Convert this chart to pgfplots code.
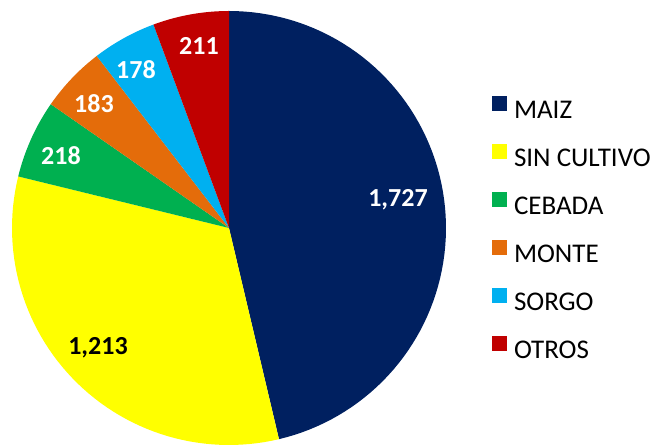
\documentclass[border=0pt]{standalone}
\usepackage{pgfplots}
\pgfplotsset{compat=1.18}
\usepackage{fontspec}
\setmainfont{Carlito}
\definecolor{cMaiz}{HTML}{002060}
\definecolor{cSin}{HTML}{FFFF00}
\definecolor{cCeb}{HTML}{00B050}
\definecolor{cMon}{HTML}{E46C0A}
\definecolor{cSor}{HTML}{00B0F0}
\definecolor{cOtr}{HTML}{C00000}
% values
\def\vMaiz{1727}\def\vSin{1213}\def\vCeb{218}\def\vMon{183}\def\vSor{178}\def\vOtr{211}
\begin{document}
\begin{tikzpicture}
\pgfmathsetmacro{\tot}{\vMaiz+\vSin+\vCeb+\vMon+\vSor+\vOtr}
\pgfmathsetmacro{\aA}{90}
\pgfmathsetmacro{\aB}{\aA-360*(\vMaiz/\tot)}
\pgfmathsetmacro{\aC}{\aB-360*(\vSin/\tot)}
\pgfmathsetmacro{\aD}{\aC-360*(\vCeb/\tot)}
\pgfmathsetmacro{\aE}{\aD-360*(\vMon/\tot)}
\pgfmathsetmacro{\aF}{\aE-360*(\vSor/\tot)}
\pgfmathsetmacro{\aG}{-270}
\def\cx{229}\def\cy{217}\def\R{217}
\begin{axis}[
  x=1bp, y=1bp, xmin=0, xmax=651, ymin=0, ymax=445,
  hide axis, clip=false,
  legend style={at={(axis cs:492,349)}, anchor=north west, draw=none, fill=none,
    inner sep=0pt, outer sep=0pt, row sep=20.8bp,
    nodes={inner sep=0pt, text height=17bp, text depth=5bp, font=\fontsize{27bp}{30bp}\selectfont},
    /tikz/every odd column/.append style={column sep=7bp}},
  legend cell align=left,
  legend image code/.code={\fill[#1] (0bp,1.2bp) rectangle (15bp,16.2bp);},
]
\path (axis cs:0,0) rectangle (axis cs:651,445);
\addplot[fill=cMaiz, draw=none, domain=\aB:\aA, samples=80, variable=\t]
  ({\cx+\R*cos(\t)},{\cy+\R*sin(\t)}) -- (axis cs:\cx,\cy) -- cycle;
\addlegendentry{MAIZ}
\addplot[fill=cSin, draw=none, domain=\aC:\aB, samples=60, variable=\t]
  ({\cx+\R*cos(\t)},{\cy+\R*sin(\t)}) -- (axis cs:\cx,\cy) -- cycle;
\addlegendentry{SIN CULTIVO}
\addplot[fill=cCeb, draw=none, domain=\aD:\aC, samples=20, variable=\t]
  ({\cx+\R*cos(\t)},{\cy+\R*sin(\t)}) -- (axis cs:\cx,\cy) -- cycle;
\addlegendentry{CEBADA}
\addplot[fill=cMon, draw=none, domain=\aE:\aD, samples=20, variable=\t]
  ({\cx+\R*cos(\t)},{\cy+\R*sin(\t)}) -- (axis cs:\cx,\cy) -- cycle;
\addlegendentry{MONTE}
\addplot[fill=cSor, draw=none, domain=\aF:\aE, samples=20, variable=\t]
  ({\cx+\R*cos(\t)},{\cy+\R*sin(\t)}) -- (axis cs:\cx,\cy) -- cycle;
\addlegendentry{SORGO}
\addplot[fill=cOtr, draw=none, domain=\aG:\aF, samples=20, variable=\t]
  ({\cx+\R*cos(\t)},{\cy+\R*sin(\t)}) -- (axis cs:\cx,\cy) -- cycle;
\addlegendentry{OTROS}
\begin{scope}[every node/.style={font=\bfseries\fontsize{26bp}{30bp}\selectfont, inner sep=0pt}]
\node[white] at (axis cs:398,245) {1,727};
\node[black] at (axis cs:98,97) {1,213};
\node[white] at (axis cs:61,289) {218};
\node[white] at (axis cs:94,341) {183};
\node[white] at (axis cs:136,375) {178};
\node[white] at (axis cs:199,399) {211};
\end{scope}
\end{axis}
\end{tikzpicture}
\end{document}
